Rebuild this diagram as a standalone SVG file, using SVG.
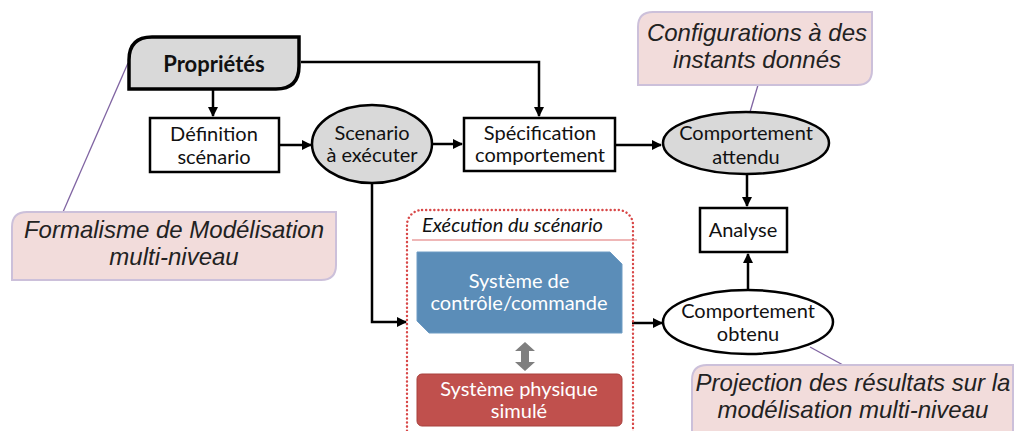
<svg xmlns="http://www.w3.org/2000/svg" width="1019" height="431" viewBox="0 0 1019 431">
<defs>
<marker id="ah" viewBox="0 0 10 10" refX="9" refY="5" markerWidth="4" markerHeight="4" orient="auto" markerUnits="strokeWidth"><path d="M0,0 L10,5 L0,10 z" fill="#000"/></marker>
<style>
.box{fill:#fff;stroke:#000;stroke-width:2.5}
.gray{fill:#d9d9d9;stroke:#000;stroke-width:2.5}
.t{font-family:Lato,"Liberation Sans",sans-serif;font-size:20px;fill:#111;text-anchor:middle}
.w{fill:#fff}
.note{fill:#f2dcdb;stroke:#ccc0da;stroke-width:2}
.nt{font-family:"Liberation Sans",Arial,sans-serif;font-style:italic;font-size:24px;fill:#222;text-anchor:middle}
.con{fill:none;stroke:#000;stroke-width:2.5;marker-end:url(#ah)}
.lead{fill:none;stroke:#8064a2;stroke-width:1.3}
</style>
</defs>
<rect width="1019" height="431" fill="#fff"/>

<g id="connectors">
<path class="con" d="M213,90 V116"/>
<path class="con" d="M280,145 H311"/>
<path class="con" d="M301,62 H539 V116"/>
<path class="con" d="M433,144 H462"/>
<path class="con" d="M616,145 H661"/>
<path class="con" d="M747,174 V206"/>
<path class="con" d="M748,290 V254"/>
<path class="con" d="M372,183 V322 H406"/>
<path class="con" d="M632,323 H662"/>
<path class="lead" d="M128,63 L63,212"/>
<path class="lead" d="M758,85 L750,112"/>
<path class="lead" d="M810,347 L843,365"/>
</g>

<g id="proprietes">
<path class="gray" style="stroke-width:3.5" d="M152,37 H299 V66 Q299,89 276,89 H129 V60 Q129,37 152,37 Z"/>
<text class="t" x="214" y="72" style="font-weight:bold;font-size:22px">Propriétés</text>
</g>

<g id="definition">
<rect class="box" x="150" y="118" width="129" height="54"/>
<text class="t" x="214" y="141">Définition</text>
<text class="t" x="214" y="164">scénario</text>
</g>

<g id="scenario">
<ellipse class="gray" cx="372" cy="144" rx="60" ry="39"/>
<text class="t" x="372" y="140">Scenario</text>
<text class="t" x="372" y="162">à exécuter</text>
</g>

<g id="specification">
<rect class="box" x="464" y="118" width="151" height="53"/>
<text class="t" x="540" y="140">Spécification</text>
<text class="t" x="540" y="162">comportement</text>
</g>

<g id="attendu">
<ellipse class="gray" cx="746" cy="143" rx="83" ry="31"/>
<text class="t" x="746" y="140">Comportement</text>
<text class="t" x="746" y="164">attendu</text>
</g>

<g id="analyse">
<rect class="box" x="700" y="208" width="87" height="44"/>
<text class="t" x="743" y="237">Analyse</text>
</g>

<g id="obtenu">
<ellipse class="box" cx="748" cy="322" rx="85" ry="32"/>
<text class="t" x="748" y="318">Comportement</text>
<text class="t" x="748" y="341">obtenu</text>
</g>

<g id="execution">
<rect x="407" y="210" width="226" height="240" rx="15" fill="none" stroke="#d84848" stroke-width="2.4" stroke-dasharray="0.1 4" stroke-linecap="round"/>
<line x1="412" y1="240" x2="637" y2="240" stroke="#e07070" stroke-width="1.2"/>
<text x="422" y="232" style="font-family:Lato,'Liberation Sans',sans-serif;font-size:20px;font-style:italic;fill:#111">Exécution du scénario</text>
</g>

<g id="controle">
<path d="M417,252 H610 L622,264 V333 H429 L417,321 Z" fill="#5b8db8" stroke="#6f9cc4" stroke-width="1"/>
<text class="t w" x="519" y="288">Système de</text>
<text class="t w" x="519" y="310">contrôle/commande</text>
</g>

<g id="double-arrow">
<path d="M525,342 L535,351 H529 V362 H535 L525,371 L515,362 H521 V351 H515 Z" fill="#7f7f7f"/>
</g>

<g id="physique">
<rect x="417" y="374" width="205" height="52" rx="5" fill="#c0504d" stroke="#a8403d" stroke-width="1"/>
<text class="t w" x="519" y="396">Système physique</text>
<text class="t w" x="519" y="418">simulé</text>
</g>

<g id="note-formalisme">
<path class="note" d="M27,212 H336 V265 Q336,280 321,280 H12 V227 Q12,212 27,212 Z"/>
<text class="nt" x="174" y="238">Formalisme de Modélisation</text>
<text class="nt" x="174" y="265">multi-niveau</text>
</g>

<g id="note-configurations">
<path class="note" d="M653,12 H872 V70 Q872,85 857,85 H638 V27 Q638,12 653,12 Z"/>
<text class="nt" x="757" y="41">Configurations à des</text>
<text class="nt" x="757" y="68">instants donnés</text>
</g>

<g id="note-projection">
<path class="note" d="M707,365 H1013 V440 H692 V380 Q692,365 707,365 Z"/>
<text class="nt" x="853" y="391">Projection des résultats sur la</text>
<text class="nt" x="853" y="418">modélisation multi-niveau</text>
</g>
</svg>
